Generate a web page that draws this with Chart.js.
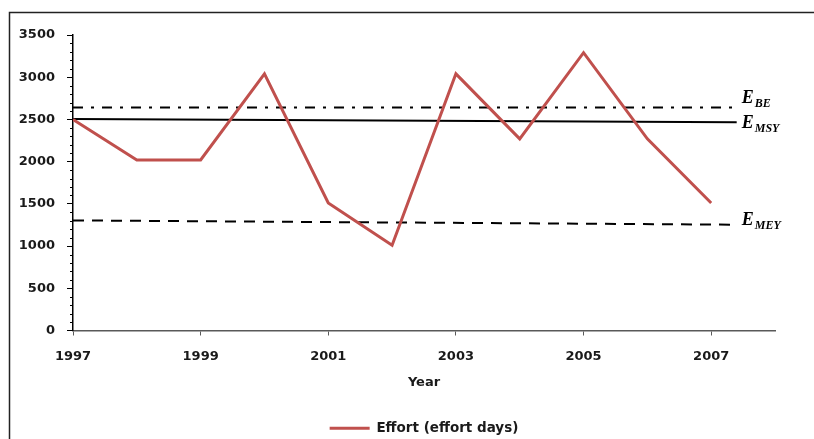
<!DOCTYPE html>
<html>
<head>
<meta charset="utf-8">
<script src="https://cdn.jsdelivr.net/npm/chart.js@4.4.1/dist/chart.umd.min.js"></script>
<style>
  html,body{margin:0;padding:0;background:#fff;}
  #wrap{width:814px;height:439px;position:relative;}
</style>
</head>
<body>
<div id="wrap"><canvas id="c"></canvas></div>
<script>
const years = [1997,1998,1999,2000,2001,2002,2003,2004,2005,2006,2007];
const effort = [2500,2020,2020,3040,1510,1010,3040,2270,3290,2270,1510];
const xTicks = [1997,1999,2001,2003,2005,2007];
const yTicks = [0,500,1000,1500,2000,2500,3000,3500];
const refEndYear = 2007.4;
const eBE = [2640, 2640];
const eMSY = [2506, 2467];
const eMEY = [1304, 1253];
const refLabels = [
  {main:'E', sub:'BE', ds:1, dy:-5},
  {main:'E', sub:'MSY', ds:2, dy:6},
  {main:'E', sub:'MEY', ds:3, dy:0}
];

const framePlugin = {
  id:'frame',
  beforeDraw(chart){
    const ctx = chart.ctx;
    ctx.save();
    ctx.strokeStyle = '#222';
    ctx.lineWidth = 1.5;
    ctx.beginPath();
    ctx.moveTo(9.5, 439);
    ctx.lineTo(9.5, 12.5);
    ctx.lineTo(814, 12.5);
    ctx.stroke();
    ctx.restore();
  }
};

const minorTicks = {
  id:'minorTicks',
  afterDraw(chart){
    const y = chart.scales.y, ctx = chart.ctx;
    ctx.save();
    ctx.strokeStyle = '#000';
    ctx.lineWidth = 1;
    for (let v = 0; v <= 3500; v += 100) {
      if (v % 500 === 0) continue;
      const py = Math.round(y.getPixelForValue(v)) + 0.5;
      ctx.beginPath();
      ctx.moveTo(y.right - 3, py);
      ctx.lineTo(y.right, py);
      ctx.stroke();
    }
    ctx.restore();
  }
};

const refLabelPlugin = {
  id:'refLabels',
  afterDraw(chart){
    const ctx = chart.ctx;
    const xs = chart.scales.x, ys = chart.scales.y;
    ctx.save();
    ctx.fillStyle = '#000';
    ctx.textBaseline = 'alphabetic';
    refLabels.forEach(l => {
      const data = chart.data.datasets[l.ds].data;
      const last = data[data.length-1];
      const px = xs.getPixelForValue(last.x) + 5;
      const py = ys.getPixelForValue(last.y) + l.dy;
      ctx.font = 'italic bold 18px "Liberation Serif"';
      ctx.fillText(l.main, px, py);
      const w = ctx.measureText(l.main).width;
      ctx.font = 'italic bold 12px "Liberation Serif"';
      ctx.fillText(l.sub, px + w + 1, py + 4);
    });
    ctx.restore();
  }
};

const pts = (xs, ys) => xs.map((x,i)=>({x:x, y:ys[i]}));
const tickFont = {family:'"DejaVu Sans"', size:13, weight:'bold'};

new Chart(document.getElementById('c'), {
  type:'line',
  data:{
    datasets:[
      {label:'Effort (effort days)', data:pts(years, effort), borderColor:'#C0504D', backgroundColor:'#C0504D', borderWidth:3, pointRadius:0, tension:0},
      {label:'EBE', data:pts([1997, refEndYear], eBE), borderColor:'#000', borderWidth:2, borderDash:[10,8,3,8], pointRadius:0},
      {label:'EMSY', data:pts([1997, refEndYear], eMSY), borderColor:'#000', borderWidth:2, pointRadius:0},
      {label:'EMEY', data:pts([1997, refEndYear], eMEY), borderColor:'#000', borderWidth:2, borderDash:[11,8], pointRadius:0}
    ]
  },
  options:{
    responsive:true,
    maintainAspectRatio:false,
    animation:false,
    layout:{padding:{left:0, right:39, top:35, bottom:-6}},
    plugins:{
      legend:{
        position:'bottom',
        fullSize:false,
        labels:{
          filter:(item)=>item.datasetIndex===0,
          usePointStyle:true,
          pointStyle:'line',
          pointStyleWidth:40,
          color:'#1a1a1a',
          font:{family:'"DejaVu Sans"', size:13.5, weight:'bold'},
          padding:10
        }
      },
      tooltip:{enabled:false}
    },
    scales:{
      x:{
        type:'linear',
        min:1997, max:2008,
        afterBuildTicks:(s)=>{ s.ticks = xTicks.map(v=>({value:v})); },
        afterFit:(s)=>{ s.height = 81; },
        border:{color:'#595959', width:1.5},
        grid:{display:true, drawOnChartArea:false, tickLength:5, tickColor:'#595959', tickWidth:1},
        ticks:{color:'#1a1a1a', font:tickFont, padding:13, maxRotation:0, autoSkip:false, callback:(v)=>String(v)},
        title:{display:true, text:'Year', color:'#1a1a1a', font:tickFont, padding:{top:4, bottom:21}}
      },
      y:{
        min:0, max:3500,
        afterBuildTicks:(s)=>{ s.ticks = yTicks.map(v=>({value:v})); },
        afterFit:(s)=>{ s.width = 73; },
        border:{color:'#000', width:1.5},
        grid:{display:true, drawOnChartArea:false, tickLength:6, tickColor:'#000'},
        ticks:{color:'#1a1a1a', font:tickFont, padding:12, callback:(v)=>String(v)}
      }
    }
  },
  plugins:[framePlugin, minorTicks, refLabelPlugin]
});
</script>
</body>
</html>
